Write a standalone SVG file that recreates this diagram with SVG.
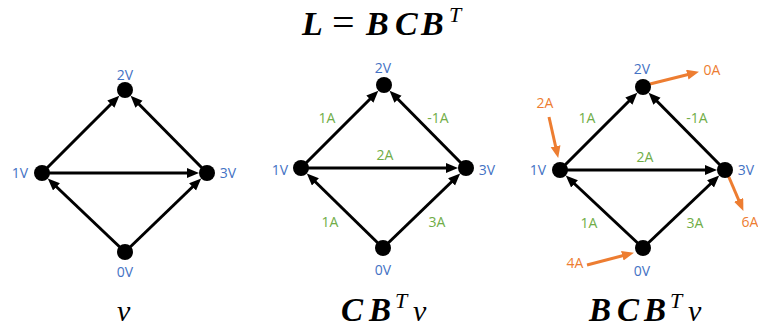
<svg xmlns="http://www.w3.org/2000/svg" width="758" height="329" viewBox="0 0 758 329">
<defs>
<marker id="ah" markerUnits="userSpaceOnUse" markerWidth="13" markerHeight="11" refX="7" refY="5" orient="auto"><path d="M0,0 L12,5 L0,10 z" fill="#000"/></marker>
<marker id="ao" markerUnits="userSpaceOnUse" markerWidth="13" markerHeight="11" refX="7" refY="5" orient="auto"><path d="M0,0 L12,5 L0,10 z" fill="#ED7D31"/></marker>
</defs>
<style>
.n{fill:#000}
.e{stroke:#000;stroke-width:3;fill:none;marker-end:url(#ah)}
.o{stroke:#ED7D31;stroke-width:3;fill:none;marker-end:url(#ao)}
.t{font-family:"Open Sans","Liberation Sans",sans-serif;font-size:14px;text-anchor:middle}
.b{fill:#4472C4}
.g{fill:#70AD47}
.r{fill:#ED7D31}
.m{font-family:"Liberation Serif","DejaVu Serif",serif;font-style:italic;font-weight:bold;font-size:34px;fill:#000}
.mb{font-size:33px}
.mr{font-weight:normal;font-size:30px}
.up{font-style:normal;font-weight:normal;font-size:40px}
.s{font-size:22px;font-weight:normal}
</style>
<text class="m" y="35"><tspan x="302">L</tspan><tspan class="up" x="332" dy="1">=</tspan><tspan x="366" dy="-1">B</tspan><tspan x="395">C</tspan><tspan x="421">B</tspan><tspan class="s" x="449" dy="-13">T</tspan></text>
<text class="m mb" y="321"><tspan class="mr" x="117">v</tspan></text>
<text class="m mb" y="321"><tspan x="341">C</tspan><tspan x="369">B</tspan><tspan class="s" x="395" dy="-13">T</tspan><tspan class="mr" x="413" dy="13">v</tspan></text>
<text class="m mb" y="321"><tspan x="589">B</tspan><tspan x="617">C</tspan><tspan x="644">B</tspan><tspan class="s" x="670" dy="-13">T</tspan><tspan class="mr" x="688" dy="13">v</tspan></text>
<g id="connectors">
<path class="e" d="M42,173 L115.8,99.2"/>
<path class="e" d="M207,173 L134.1,99.2"/>
<path class="e" d="M42,173 L194,173"/>
<path class="e" d="M125,252 L51.4,182"/>
<path class="e" d="M125,252 L197.6,182"/>
<path class="e" d="M301,168 L374.8,94.2"/>
<path class="e" d="M466,168 L393.1,94.2"/>
<path class="e" d="M301,168 L453,168"/>
<path class="e" d="M383,248 L310.4,177"/>
<path class="e" d="M383,248 L456.6,177"/>
<path class="e" d="M560,170 L633.8,96.2"/>
<path class="e" d="M725,170 L652.1,96.2"/>
<path class="e" d="M560,170 L712,170"/>
<path class="e" d="M643,248 L569.4,179"/>
<path class="e" d="M643,248 L715.6,179"/>
<path class="o" d="M650,84 L694.1,73"/>
<path class="o" d="M549,117 L557.1,153.1"/>
<path class="o" d="M728,175 L741.4,206.3"/>
<path class="o" d="M587,265 L629.1,254"/>
</g>
<g id="d1-n2"><circle class="n" cx="125" cy="90" r="8"/><text class="t b" x="125" y="80">2V</text></g>
<g id="d1-n1"><circle class="n" cx="42" cy="173" r="8"/><text class="t b" x="20" y="178">1V</text></g>
<g id="d1-n3"><circle class="n" cx="207" cy="173" r="8"/><text class="t b" x="228" y="178">3V</text></g>
<g id="d1-n0"><circle class="n" cx="125" cy="252" r="8"/><text class="t b" x="125" y="277">0V</text></g>
<g id="d2-n2"><circle class="n" cx="384" cy="85" r="8"/><text class="t b" x="383" y="73">2V</text></g>
<g id="d2-n1"><circle class="n" cx="301" cy="168" r="8"/><text class="t b" x="280" y="175">1V</text></g>
<g id="d2-n3"><circle class="n" cx="466" cy="168" r="8"/><text class="t b" x="487" y="175">3V</text></g>
<g id="d2-n0"><circle class="n" cx="383" cy="248" r="8"/><text class="t b" x="383" y="275">0V</text></g>
<g id="d2-labels">
<text class="t g" x="327" y="123">1A</text>
<text class="t g" x="438" y="123">-1A</text>
<text class="t g" x="385" y="160">2A</text>
<text class="t g" x="330" y="227">1A</text>
<text class="t g" x="437" y="227">3A</text>
</g>
<g id="d3-n2"><circle class="n" cx="643" cy="87" r="8"/><text class="t b" x="642" y="74">2V</text></g>
<g id="d3-n1"><circle class="n" cx="560" cy="170" r="8"/><text class="t b" x="538" y="175">1V</text></g>
<g id="d3-n3"><circle class="n" cx="725" cy="170" r="8"/><text class="t b" x="746" y="175">3V</text></g>
<g id="d3-n0"><circle class="n" cx="643" cy="248" r="8"/><text class="t b" x="642" y="276">0V</text></g>
<g id="d3-labels">
<text class="t g" x="587" y="123">1A</text>
<text class="t g" x="697" y="123">-1A</text>
<text class="t g" x="645" y="162">2A</text>
<text class="t g" x="589" y="228">1A</text>
<text class="t g" x="695" y="228">3A</text>
<text class="t r" x="712" y="75">0A</text>
<text class="t r" x="545" y="108">2A</text>
<text class="t r" x="750" y="227">6A</text>
<text class="t r" x="575" y="268">4A</text>
</g>
</svg>
